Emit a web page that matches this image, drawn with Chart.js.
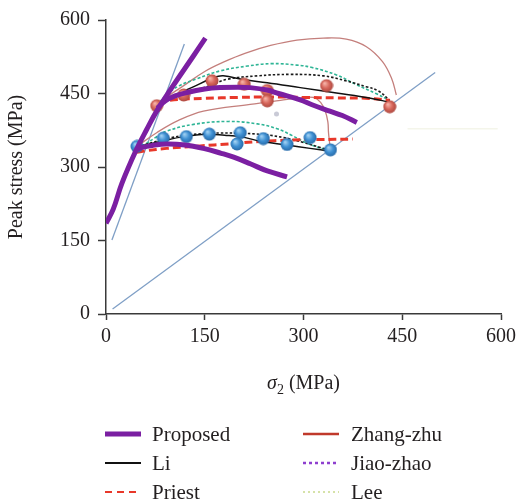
<!DOCTYPE html>
<html>
<head>
<meta charset="utf-8">
<script src="https://cdn.jsdelivr.net/npm/chart.js@4.4.1/dist/chart.umd.min.js"></script>
<style>
  html, body { margin: 0; background: #fff; overflow: hidden; }
  #wrap { position: relative; width: 521px; height: 502px; }
  .leg { position: absolute; font: 21px "Liberation Serif", "DejaVu Serif", serif; color: #231f20; line-height: 24px; }
  .leg svg { position: absolute; }
</style>
</head>
<body>
<div id="wrap">
  <canvas id="chart"></canvas>
  <div id="legend"></div>
</div>
<script>
// (MPa)
const proposedAX = [0, 11, 24, 45, 62, 77, 100, 133, 151];
const proposedAY = [185, 214, 266, 332, 377, 414, 462, 527, 563];
const proposedBX = [78, 90, 105, 123, 150, 173, 200, 219, 245, 262, 295, 313, 340, 359, 381];
const proposedBY = [420, 435, 445, 452, 459, 462, 463, 462, 457, 450, 437, 427, 414, 405, 391];
const proposedCX = [45, 55, 70, 92, 120, 148, 175, 194, 220, 245, 275];
const proposedCY = [335, 340, 344, 347, 345, 338, 328, 320, 306, 292, 280];

const liUpperX = [77, 87, 105, 130, 163, 178, 210, 245, 295, 350, 400, 431];
const liUpperY = [425, 435, 447, 462, 482, 486, 478, 472, 462, 451, 441, 432];
const liLowerX = [47, 60, 82, 118, 153, 180, 204, 237, 275, 310, 341];
const liLowerY = [340, 345, 352, 362, 367, 365, 362, 352, 345, 338, 332];

const priestUpperX = [80, 95, 150, 200, 250, 300, 350, 400, 431];
const priestUpperY = [428, 436, 440, 442, 443, 442, 441, 440, 436];
const priestLowerX = [47, 60, 92, 143, 186, 232, 280, 320, 375];
const priestLowerY = [330, 333, 338, 343, 347, 352, 355, 356, 357];

const jiaoUpperX = [77, 92, 125, 158, 184, 230, 280, 330, 364, 395, 414, 431];
const jiaoUpperY = [425, 438, 453, 466, 479, 486, 489, 486, 476, 464, 455, 436];
const jiaoLowerX = [47, 70, 100, 130, 160, 200, 240, 270, 300, 325, 341];
const jiaoLowerY = [340, 350, 360, 366, 369, 369, 366, 360, 350, 340, 334];

const leeUpperX = [77, 92, 110, 138, 173, 215, 252, 290, 313, 350, 379, 410, 431];
const leeUpperY = [425, 447, 465, 480, 496, 506, 511, 508, 503, 488, 469, 450, 436];
const leeLowerX = [47, 57, 75, 92, 133, 186, 230, 260, 283, 308, 340];
const leeLowerY = [340, 345, 360, 373, 387, 393, 388, 378, 364, 347, 333];
const leeFaintX = [458, 595];
const leeFaintY = [378, 378];

const zhangUpperX = [80, 100, 118, 150, 180, 211, 250, 290, 330, 365, 395, 420, 434, 441];
const zhangUpperY = [430, 450, 466, 495, 515, 532, 548, 559, 563, 561, 546, 515, 480, 447];
const zhangLowerX = [50, 77, 110, 148, 219, 265, 295, 315, 326, 333, 337, 338, 340];
const zhangLowerY = [345, 370, 395, 414, 428, 436, 441, 442, 432, 414, 392, 370, 345];

const diagX = [10, 500];
const diagY = [10, 493];
const steepX = [9, 119];
const steepY = [151, 551];

const redX = [77, 118, 161, 210, 245, 245, 335, 431];
const redY = [425, 447, 476, 469, 456, 435, 466, 423];
const blueX = [47, 87, 122, 157, 204, 199, 239, 275, 310, 341];
const blueY = [342, 359, 362, 367, 370, 347, 358, 346, 360, 335];
const greyX = [259];
const greyY = [408];

const ticks = [0, 150, 300, 450, 600];

function pts(xs, ys) {
  return xs.map((x, i) => ({ x: x, y: ys[i] }));
}

function sphere(light, base, dark) {
  const c = document.createElement('canvas');
  c.width = 14; c.height = 14;
  const g = c.getContext('2d');
  const grad = g.createRadialGradient(5, 4.5, 0.5, 7, 7, 7);
  grad.addColorStop(0, light);
  grad.addColorStop(0.5, base);
  grad.addColorStop(1, dark);
  g.fillStyle = grad;
  g.beginPath();
  g.arc(7, 7, 6.5, 0, Math.PI * 2);
  g.fill();
  return c;
}

function line(xs, ys, color, width, dash, tension) {
  return {
    data: pts(xs, ys),
    showLine: true,
    borderColor: color,
    borderWidth: width,
    borderDash: dash || [],
    borderCapStyle: 'butt',
    pointRadius: 0,
    tension: tension === undefined ? 0.4 : tension,
    fill: false
  };
}

const purple = '#7b1fa2';
const serif = '"Liberation Serif", "DejaVu Serif", serif';

// x title with italic sigma and subscript
const xTitle = {
  id: 'xTitle',
  afterDraw(chart) {
    const ctx = chart.ctx;
    const a = chart.chartArea;
    const cx = (a.left + a.right) / 2;
    const y = 384;
    ctx.save();
    ctx.fillStyle = '#231f20';
    ctx.textBaseline = 'middle';
    ctx.font = 'italic 20px ' + serif;
    const w1 = ctx.measureText('σ').width;
    ctx.font = '14px ' + serif;
    const w2 = ctx.measureText('2').width;
    ctx.font = '20px ' + serif;
    const w3 = ctx.measureText(' (MPa)').width;
    let x = cx - (w1 + w2 + w3) / 2;
    ctx.textAlign = 'left';
    ctx.font = 'italic 20px ' + serif;
    ctx.fillText('σ', x, y);
    x += w1;
    ctx.font = '14px ' + serif;
    ctx.fillText('2', x, y + 6);
    x += w2;
    ctx.font = '20px ' + serif;
    ctx.fillText(' (MPa)', x, y);
    ctx.restore();
  }
};

const redBall = sphere('#f6b3a8', '#d7675c', '#a8443b');
const blueBall = sphere('#9fd0f2', '#3f90d3', '#2566a3');

const axisColor = '#3a3a3a';

new Chart(document.getElementById('chart'), {
  type: 'scatter',
  data: {
    datasets: [
      line(proposedAX, proposedAY, purple, 5),
      line(proposedBX, proposedBY, purple, 5),
      line(proposedCX, proposedCY, purple, 5),
      { data: pts(redX, redY), pointStyle: redBall, showLine: false },
      { data: pts(blueX, blueY), pointStyle: blueBall, showLine: false },
      { data: pts(greyX, greyY), pointRadius: 2.5, pointBackgroundColor: '#c9cad6', pointBorderWidth: 0, showLine: false },
      line(liUpperX, liUpperY, '#111111', 1.5),
      line(liLowerX, liLowerY, '#111111', 1.5),
      line(priestUpperX, priestUpperY, '#e8382a', 3, [8, 4]),
      line(priestLowerX, priestLowerY, '#e8382a', 3, [8, 4]),
      line(jiaoUpperX, jiaoUpperY, '#1a1a1a', 1.6, [2.5, 2]),
      line(jiaoLowerX, jiaoLowerY, '#1a1a1a', 1.6, [2.5, 2]),
      line(leeUpperX, leeUpperY, '#2fb596', 1.6, [3, 2]),
      line(leeLowerX, leeLowerY, '#2fb596', 1.6, [3, 2]),
      line(leeFaintX, leeFaintY, '#f4f5ea', 1.5, [], 0),
      line(zhangUpperX, zhangUpperY, '#c47f7c', 1.3),
      line(zhangLowerX, zhangLowerY, '#c47f7c', 1.3),
      line(diagX, diagY, '#7f9fc6', 1.3, [], 0),
      line(steepX, steepY, '#7f9fc6', 1.3, [], 0)
    ]
  },
  options: {
    responsive: true,
    maintainAspectRatio: false,
    animation: false,
    layout: { padding: { left: 0, right: 5, top: 7, bottom: 148 } },
    plugins: { legend: { display: false }, tooltip: { enabled: false } },
    scales: {
      x: {
        type: 'linear', min: 0, max: 600,
        afterBuildTicks: s => { s.ticks = ticks.map(v => ({ value: v })); },
        grid: { drawOnChartArea: false, tickLength: 6, tickColor: axisColor, tickWidth: 1.5 },
        border: { color: axisColor, width: 1.5 },
        ticks: { color: '#231f20', padding: 5, maxRotation: 0, font: { family: serif, size: 20 } }
      },
      y: {
        type: 'linear', min: 0, max: 600,
        afterBuildTicks: s => { s.ticks = ticks.map(v => ({ value: v })); },
        grid: { drawOnChartArea: false, tickLength: 8, tickColor: axisColor, tickWidth: 1.5 },
        border: { color: axisColor, width: 1.5 },
        ticks: { color: '#231f20', padding: 8, font: { family: serif, size: 20 } },
        title: {
          display: true, text: 'Peak stress (MPa)', color: '#231f20',
          font: { family: serif, size: 20 }, padding: { top: 5, bottom: 23 }
        }
      }
    }
  },
  plugins: [xTitle]
});

// legend, two columns like the reference
const legendNames = ['Proposed', 'Li', 'Priest', 'Zhang-zhu', 'Jiao-zhao', 'Lee'];
const legendColors = [purple, '#111111', '#e8382a', '#c0392b', '#8e3fcf', '#c9d98c'];
const legendWidths = [5, 2, 2, 2.5, 2.5, 1.5];
const legendDash = ['', '', '7 5', '', '3 3', '2 3'];

const legend = document.getElementById('legend');
legendNames.forEach((name, i) => {
  const col = Math.floor(i / 3), row = i % 3;
  const lx = col === 0 ? 105 : 303;
  const cy = [434, 463, 492][row];
  const item = document.createElement('div');
  item.className = 'leg';
  item.style.left = lx + 'px';
  item.style.top = (cy - 12) + 'px';
  item.innerHTML =
    '<svg width="36" height="10" style="left:0;top:7px">' +
    '<line x1="0" y1="5" x2="36" y2="5" stroke="' + legendColors[i] + '" stroke-width="' + legendWidths[i] +
    '" stroke-dasharray="' + legendDash[i] + '"/></svg>' +
    '<span style="position:absolute;left:' + (col === 0 ? 47 : 48) + 'px;white-space:nowrap">' + name + '</span>';
  legend.appendChild(item);
});
</script>
</body>
</html>
